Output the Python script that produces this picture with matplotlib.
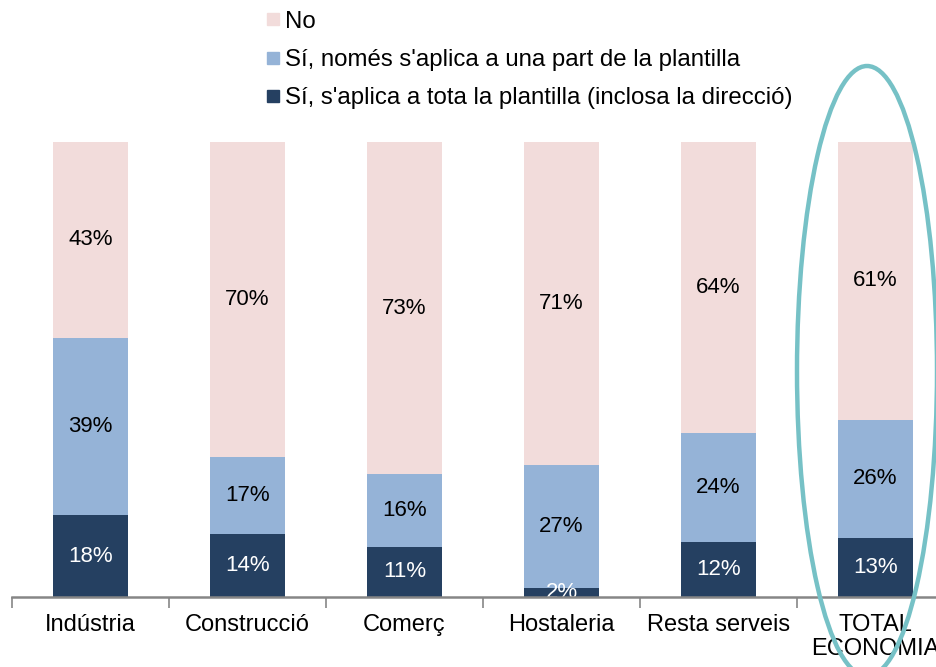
import matplotlib
matplotlib.use("Agg")
import matplotlib.pyplot as plt
from matplotlib.lines import Line2D
from matplotlib.patches import Ellipse

plt.rcParams['font.family'] = ['Liberation Sans', 'DejaVu Sans']

categories = ["Indústria", "Construcció", "Comerç", "Hostaleria", "Resta serveis", "TOTAL\nECONOMIA"]
tota = [18, 14, 11, 2, 12, 13]
part = [39, 17, 16, 27, 24, 26]
no = [43, 70, 73, 71, 64, 61]
series_names = ["Sí, s'aplica a tota la plantilla (inclosa la direcció)",
                "Sí, només s'aplica a una part de la plantilla",
                "No"]
colors = ["#254061", "#95B3D7", "#F2DCDB"]
text_colors = ["white", "black", "black"]

W, H = 936, 667
fig = plt.figure(figsize=(W / 100, H / 100), dpi=100)
ylim_top = 100
ax = fig.add_axes([12 / W, 1 - 597 / H, 942 / W, 455 / H])

# 100% stacked: each bar scaled to its total
totals = [a + b + c for a, b, c in zip(tota, part, no)]

x = list(range(len(categories)))
bottom = [0.0] * len(categories)
for vals, col, tc in zip([tota, part, no], colors, text_colors):
    heights = [v * 100.0 / t for v, t in zip(vals, totals)]
    ax.bar(x, heights, width=0.48, bottom=bottom, color=col, zorder=2)
    for xi, v, h, b in zip(x, vals, heights, bottom):
        ax.text(xi, b + h / 2, f"{v}%", ha="center", va="center", color=tc,
                fontsize=16, zorder=3)
    bottom = [b + h for b, h in zip(bottom, heights)]

ax.set_xlim(-0.5, len(categories) - 0.5)
ax.set_ylim(0, ylim_top)
for s in ["top", "right", "left"]:
    ax.spines[s].set_visible(False)
ax.spines["bottom"].set_color("#868686")
ax.spines["bottom"].set_linewidth(1.8)
ax.spines["bottom"].set_zorder(4)
ax.set_yticks([])
ax.set_xticks(x)
ax.set_xticklabels(categories, fontsize=17, linespacing=1.15)
ax.tick_params(axis="x", which="major", length=0, pad=12)
ax.set_xticks([i - 0.5 for i in range(len(categories) + 1)], minor=True)
ax.tick_params(axis="x", which="minor", length=8, width=1.2, color="#868686")

handles = [Line2D([0], [0], marker="s", linestyle="none", markersize=8,
                  markerfacecolor=colors[i], markeredgecolor=colors[i]) for i in [2, 1, 0]]
labels = [series_names[i] for i in [2, 1, 0]]
fig.legend(handles, labels, loc="upper left", bbox_to_anchor=(257 / W, 1 - 1 / H),
           frameon=False, fontsize=17.3, handlelength=0.5, handletextpad=0.25,
           labelspacing=0.68, borderaxespad=0)

ell = Ellipse((867 / W, 1 - 371 / H), 140 / W, 610 / H, transform=fig.transFigure,
              fill=False, edgecolor="#76C1C6", linewidth=3.2, zorder=10)
fig.add_artist(ell)

fig.savefig("out.png", dpi=100)
